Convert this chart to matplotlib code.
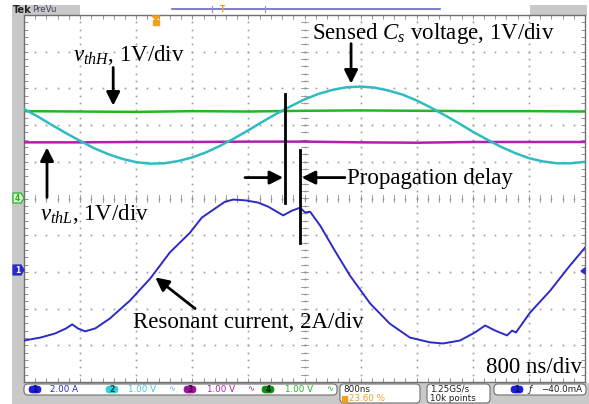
import numpy as np
import matplotlib
matplotlib.use("Agg")
import matplotlib.pyplot as plt
from matplotlib.patches import Rectangle, FancyBboxPatch, Polygon

plt.rcParams['mathtext.fontset'] = 'custom'
plt.rcParams['mathtext.rm'] = 'Liberation Serif'
plt.rcParams['mathtext.it'] = 'Liberation Serif:italic'

# ---- waveform data, in screen divisions (x: 800 ns/div, y: offset divisions) ----
cs_time = [0.00, 0.25, 0.50, 0.75, 1.00, 1.25, 1.50, 1.75, 2.00, 2.25, 2.50, 2.75,
           3.00, 3.25, 3.50, 3.75, 4.00, 4.25, 4.50, 4.75, 5.00, 5.25, 5.50, 5.75,
           6.00, 6.25, 6.50, 6.75, 7.00, 7.25, 7.50, 7.75, 8.00, 8.25, 8.50, 8.75,
           9.00, 9.25, 9.50, 9.75, 10.00]
cs_volt = [2.44, 2.23, 2.00, 1.78, 1.57, 1.37, 1.21, 1.08, 0.99, 0.95, 0.96, 1.02,
           1.12, 1.26, 1.44, 1.64, 1.86, 2.09, 2.31, 2.51, 2.70, 2.85, 2.96, 3.03,
           3.05, 3.02, 2.94, 2.83, 2.67, 2.48, 2.27, 2.05, 1.82, 1.61, 1.41, 1.24,
           1.10, 1.01, 0.96, 0.96, 1.00]

th_time = [0, 1, 2, 3, 4, 5, 6, 7, 8, 9, 10]
vth_high = [2.38, 2.37, 2.36, 2.38, 2.37, 2.39, 2.40, 2.39, 2.38, 2.38, 2.37]
vth_low = [1.53, 1.53, 1.54, 1.54, 1.55, 1.55, 1.53, 1.52, 1.54, 1.54, 1.54]

cur_time = [0.00, 0.29, 0.55, 0.75, 0.86, 0.96, 1.09, 1.27, 1.53, 1.89, 2.25, 2.60,
            2.96, 3.17, 3.58, 3.73, 3.94, 4.17, 4.35, 4.62, 4.78, 4.92, 5.01, 5.10,
            5.28, 5.54, 5.81, 6.17, 6.52, 6.88, 7.24, 7.47, 7.77, 8.04, 8.22, 8.40,
            8.61, 8.70, 8.77, 9.02, 9.38, 9.73, 10.00]
cur_amp = [-3.87, -3.79, -3.68, -3.54, -3.43, -3.54, -3.62, -3.54, -3.27, -2.78, -2.18, -1.47,
           -0.93, -0.52, -0.09, -0.03, -0.05, -0.11, -0.22, -0.46, -0.33, -0.25, -0.38, -0.36,
           -0.74, -1.42, -2.10, -2.86, -3.41, -3.79, -3.92, -3.95, -3.87, -3.65, -3.46, -3.60,
           -3.73, -3.60, -3.65, -3.11, -2.51, -1.83, -1.34]

GREEN = '#22b822'
MAGENTA = '#b01fb0'
CYAN = '#2fbcc0'
BLUE = '#2b2bc8'
ORANGE = '#f0a020'
FRAME = '#c9c9c9'

W, H = 589, 404
fig = plt.figure(figsize=(W / 100, H / 100), dpi=100)

# ---- instrument frame (pixel coordinates) ----
bg = fig.add_axes([0, 0, 1, 1], zorder=0)
bg.set_xlim(0, W)
bg.set_ylim(H, 0)
bg.axis('off')
bg.add_patch(Rectangle((12, 5), 12, H - 5, color=FRAME, lw=0))
bg.add_patch(Rectangle((12, 383), W - 12, H - 383, color=FRAME, lw=0))
bg.add_patch(Rectangle((12, 5), 68, 10, color=FRAME, lw=0))
bg.add_patch(Rectangle((530, 5), 57, 10, color=FRAME, lw=0))
bg.text(13, 10, 'Tek', fontsize=7, fontweight='bold', va='center', ha='left', color='#202020')
bg.text(32, 10, 'PreVu', fontsize=6.2, va='center', ha='left', color='#404060')
bg.plot([172, 440], [8.5, 8.5], color='#6a6ac0', lw=1.2)
bg.plot([212, 212], [6, 12], color='#9090c0', lw=0.8)
bg.plot([265, 265], [6, 12], color='#9090c0', lw=0.8)
bg.text(223, 9.5, 'T', fontsize=5.5, color=ORANGE, ha='center', va='center', fontweight='bold')

# ---- graticule ----
ax = fig.add_axes([24 / W, (H - 382) / H, 561 / W, 367 / H], zorder=1)
ax.set_xlim(0, 10)
ax.set_ylim(-5, 5)
ax.set_facecolor('white')
for s in ax.spines.values():
    s.set_color('#707070')
    s.set_linewidth(1.0)
ax.set_xticks(np.arange(0, 10.01, 1.0))
ax.set_yticks(np.arange(-5, 5.01, 1.0))
ax.set_xticks(np.arange(0, 10.01, 0.2), minor=True)
ax.set_yticks(np.arange(-5, 5.01, 0.2), minor=True)
ax.tick_params(which='both', direction='in', length=3, width=0.6, color='#808080',
               top=True, right=True, labelbottom=False, labelleft=False)

sub_y = np.arange(-5, 5.01, 0.2)
sub_x = np.arange(0, 10.01, 0.2)
for gx in range(1, 10):
    ax.plot(np.full_like(sub_y, gx), sub_y, ls='none', marker='s', ms=1.2,
            color='#9a9a9a', mew=0, zorder=1)
for gy in range(-4, 5):
    ax.plot(sub_x, np.full_like(sub_x, gy), ls='none', marker='s', ms=1.2,
            color='#9a9a9a', mew=0, zorder=1)
# centre crosshair ticks
for yy in sub_y:
    ax.plot([4.94, 5.06], [yy, yy], color='#909090', lw=0.6, zorder=1)
for xx in sub_x:
    ax.plot([xx, xx], [-0.09, 0.09], color='#909090', lw=0.6, zorder=1)

# ---- traces ----
ax.plot(th_time, vth_high, color=GREEN, lw=1.8, zorder=3)
ax.plot(th_time, vth_low, color=MAGENTA, lw=1.8, zorder=3)
ax.plot(cs_time, cs_volt, color=CYAN, lw=1.8, zorder=4)
ax.plot(cur_time, cur_amp, color=BLUE, lw=1.4, zorder=4)

# ---- annotations ----
lab = dict(fontsize=16.5, family='Liberation Serif', color='black', zorder=6)
arrow = dict(arrowstyle='-|>', color='black', lw=2.0, mutation_scale=20, shrinkA=0, shrinkB=0)

ax.text(0.87, 3.90, r'$v_{thH}$, 1V/div', ha='left', va='center', **lab)
ax.annotate('', xy=(1.59, 2.53), xytext=(1.59, 3.57), arrowprops=arrow, zorder=6)

ax.text(5.13, 4.50, r'Sensed $C_s$ voltage, 1V/div', ha='left', va='center', **lab)
ax.annotate('', xy=(5.83, 3.13), xytext=(5.83, 4.22), arrowprops=arrow, zorder=6)

ax.text(0.29, -0.41, r'$v_{thL}$, 1V/div', ha='left', va='center', **lab)
ax.annotate('', xy=(0.41, 1.39), xytext=(0.41, 0.03), arrowprops=arrow, zorder=6)

ax.text(5.76, 0.54, 'Propagation delay', ha='left', va='center', **lab)
ax.plot([4.65, 4.65], [2.86, -0.11], color='black', lw=2.0, zorder=6)
ax.plot([4.92, 4.92], [1.31, -1.20], color='black', lw=2.0, zorder=6)
ax.annotate('', xy=(4.62, 0.57), xytext=(3.94, 0.57), arrowprops=arrow, zorder=6)
ax.annotate('', xy=(4.95, 0.57), xytext=(5.72, 0.57), arrowprops=arrow, zorder=6)

ax.text(1.94, -3.38, 'Resonant current, 2A/div', ha='left', va='center', **lab)
ax.annotate('', xy=(2.34, -2.15), xytext=(3.05, -3.00), arrowprops=arrow, zorder=6)

ax.text(9.95, -4.60, '800 ns/div', ha='right', va='center', **lab)

# ---- channel markers ----
fg = fig.add_axes([0, 0, 1, 1], zorder=2)
fg.set_xlim(0, W)
fg.set_ylim(H, 0)
fg.axis('off')
fg.add_patch(Polygon([[13, 193], [21, 193], [24, 198], [21, 203], [13, 203]],
                     closed=True, fc='#e0f4dc', ec=GREEN, lw=0.9))
fg.text(17.5, 198.3, '4', fontsize=5.5, color=GREEN, ha='center', va='center', fontweight='bold')
fg.add_patch(Polygon([[13, 265], [21, 265], [24, 270], [21, 275], [13, 275]],
                     closed=True, fc=BLUE, ec=BLUE, lw=0.9))
fg.text(17.5, 270.3, '1', fontsize=5.5, color='white', ha='center', va='center', fontweight='bold')
fg.add_patch(Polygon([[581, 271], [585, 268], [585, 274]], closed=True, fc=BLUE, ec=BLUE))
fg.add_patch(Polygon([[152, 16], [160, 16], [156, 20]], closed=True, fc=ORANGE, ec=ORANGE))
fg.add_patch(Rectangle((153, 20), 6, 5, fc=ORANGE, ec=ORANGE))

# ---- status bar ----
box = dict(boxstyle='round,pad=0,rounding_size=4', fc='white', ec='#707070', lw=0.8)
fg.add_patch(FancyBboxPatch((24, 384), 313, 11, **box))
fg.add_patch(FancyBboxPatch((340, 384), 80, 19, **box))
fg.add_patch(FancyBboxPatch((427, 384), 63, 19, **box))
fg.add_patch(FancyBboxPatch((494, 384), 92, 11, **box))

sb = dict(fontsize=6.3, va='center', ha='left')


def chan_badge(x, num, color, txtcolor):
    fg.add_patch(FancyBboxPatch((x - 6, 386), 12, 7, boxstyle='round,pad=0,rounding_size=3.5',
                                fc=color, ec=color, lw=0.5))
    fg.text(x, 389.8, num, fontsize=5.5, color=txtcolor, ha='center', va='center', fontweight='bold')


chan_badge(35, '1', '#1a1ae0', '#101060')
fg.text(50, 390, '2.00 A', color=BLUE, **sb)
chan_badge(112, '2', '#30d0d8', '#104040')
fg.text(128, 390, '1.00 V', color='#40c8d0', **sb)
fg.text(172, 389, '∿', color='#50c0c8', fontsize=6, va='center', ha='center')
chan_badge(190, '3', '#a010a0', '#300030')
fg.text(207, 390, '1.00 V', color=MAGENTA, **sb)
fg.text(251, 389, '∿', color=MAGENTA, fontsize=6, va='center', ha='center')
chan_badge(268, '4', '#109010', '#002000')
fg.text(285, 390, '1.00 V', color=GREEN, **sb)
fg.text(330, 389, '∿', color=GREEN, fontsize=6, va='center', ha='center')

fg.text(343, 389.5, '800ns', color='#202020', **sb)
fg.add_patch(Rectangle((342, 395.5), 5, 6, fc=ORANGE, ec=ORANGE))
fg.text(349, 398.5, '23.60 %', color=ORANGE, **sb)
fg.text(430, 389.5, '1.25GS/s', color='#202020', **sb)
fg.text(430, 398.5, '10k points', color='#202020', **sb)
chan_badge(517, '1', '#1a1ae0', '#101060')
fg.text(530, 389.5, 'ƒ', color='#202020', fontsize=6.5, va='center', ha='center', style='italic')
fg.text(541, 389.5, '−40.0mA', color='#202020', **sb)

fig.savefig('out.png', dpi=100, facecolor='white')
